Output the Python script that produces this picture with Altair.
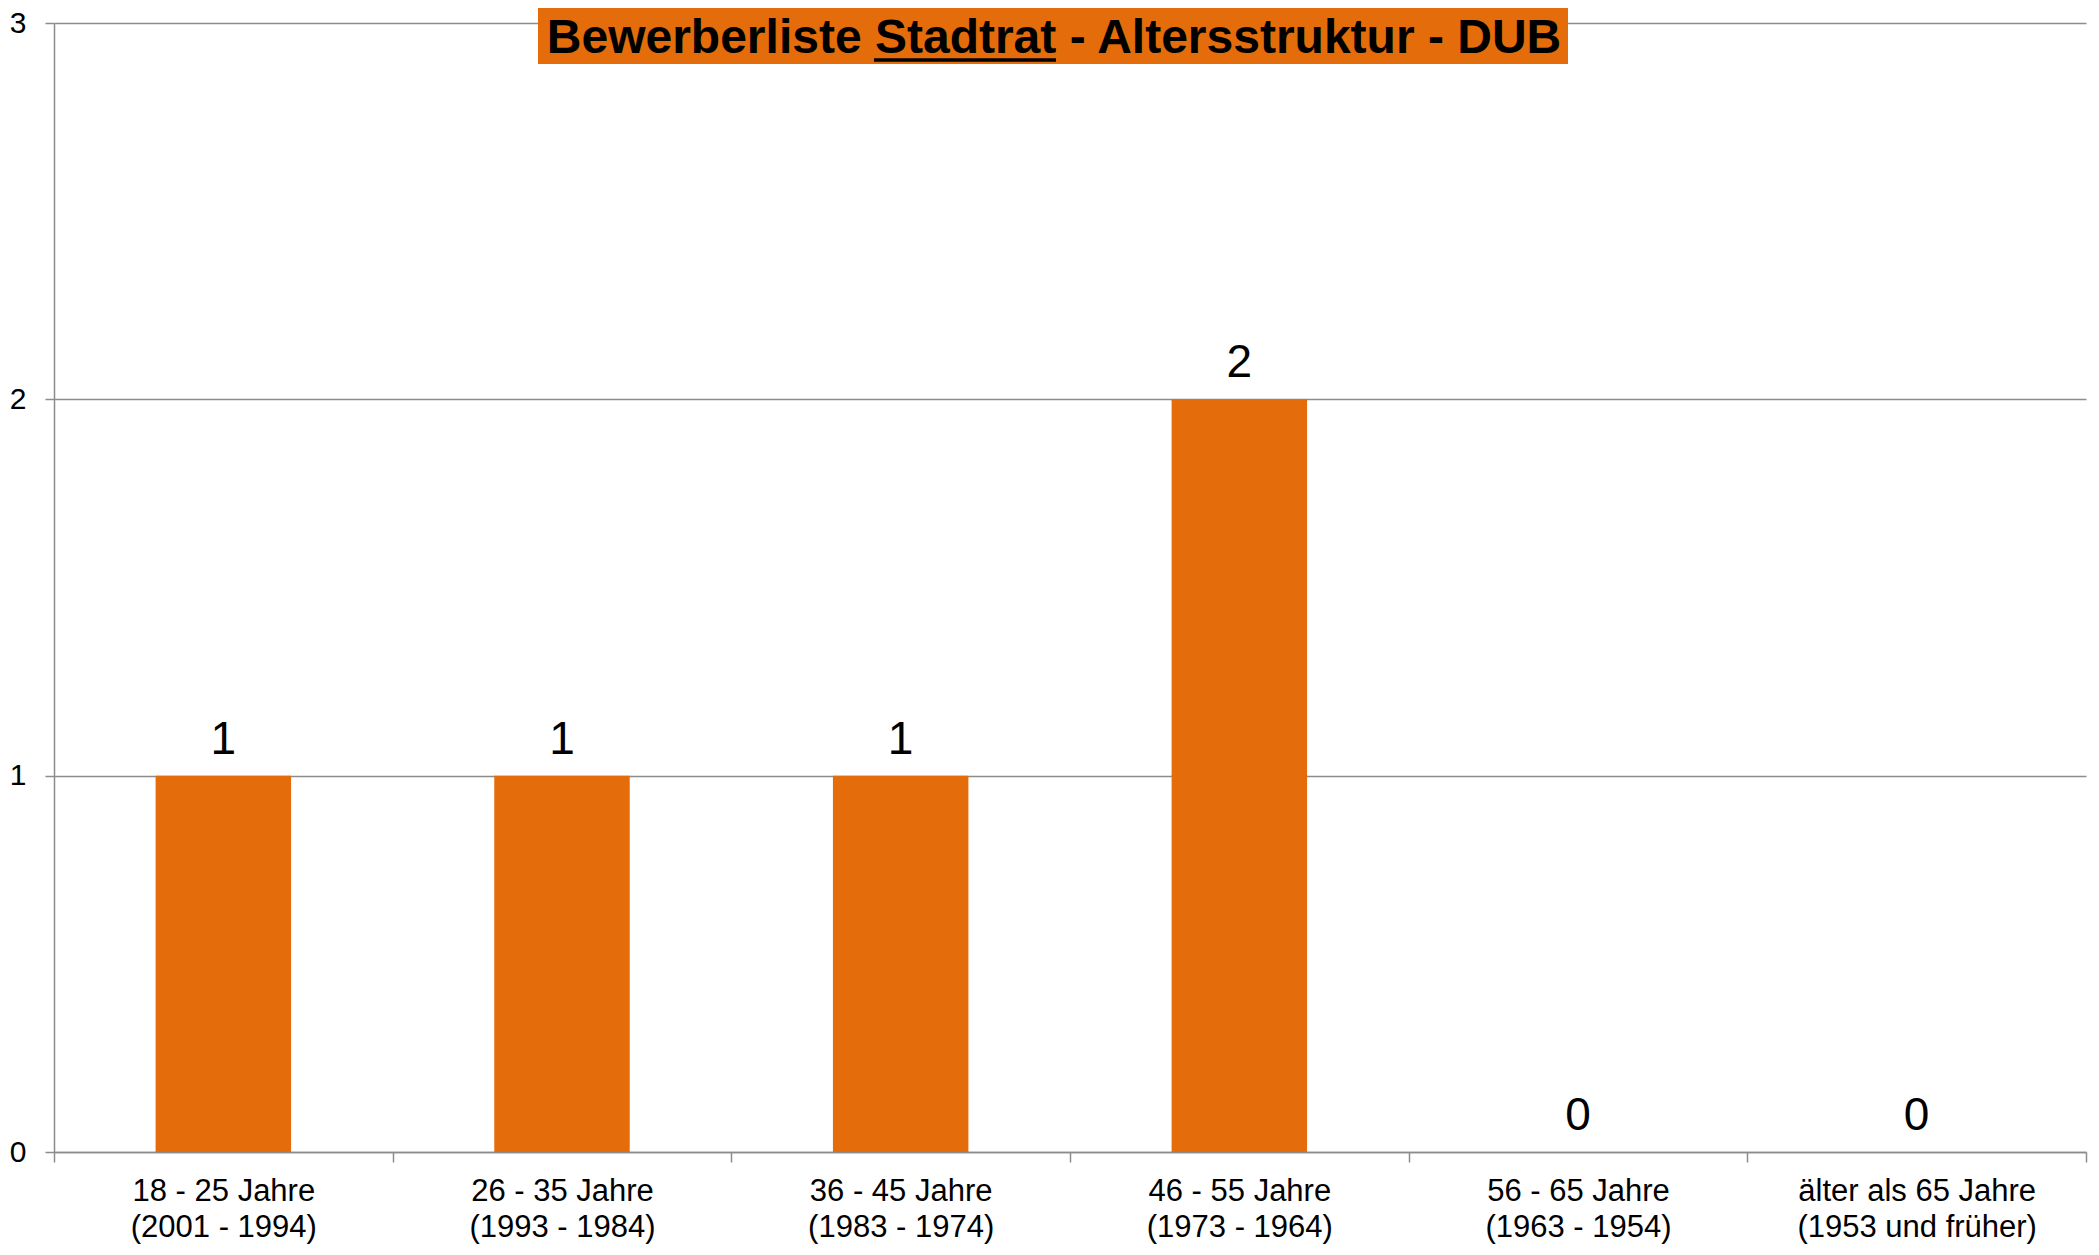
import altair as alt
import pandas as pd

age_groups = ["18 - 25 Jahre", "26 - 35 Jahre", "36 - 45 Jahre",
              "46 - 55 Jahre", "56 - 65 Jahre", "älter als 65 Jahre"]
birth_years = ["(2001 - 1994)", "(1993 - 1984)", "(1983 - 1974)",
               "(1973 - 1964)", "(1963 - 1954)", "(1953 und früher)"]
counts = [1, 1, 1, 2, 0, 0]
y_ticks = [0, 1, 2, 3]
title_text = "Bewerberliste Stadtrat - Altersstruktur - DUB"

df = pd.DataFrame({
    "label": [f"{a}\n{b}" for a, b in zip(age_groups, birth_years)],
    "count": counts,
})
title_df = pd.DataFrame({"t": [title_text]})

ORANGE = "#E46C0A"
GRAY = "#8C8C8C"
FONT = "Liberation Sans"

x = alt.X(
    "label:N", sort=None, title=None,
    scale=alt.Scale(paddingInner=0, paddingOuter=0),
    axis=alt.Axis(
        labelAngle=0, labelExpr="split(datum.label, '\\n')",
        labelFont=FONT, labelFontSize=31, labelColor="black", labelLimit=0,
        labelLineHeight=36, labelPadding=14, labelBaseline="top",
        tickBand="extent", tickSize=10, tickColor=GRAY, tickWidth=1.5,
        domainColor=GRAY, domainWidth=1.5, grid=False,
    ),
)
y = alt.Y(
    "count:Q", title=None,
    scale=alt.Scale(domain=[0, 3], nice=False),
    axis=alt.Axis(
        values=y_ticks, format="d", labelFont=FONT, labelFontSize=30,
        labelColor="black", labelPadding=19, tickSize=9, tickColor=GRAY,
        tickWidth=1.5, domainColor=GRAY, domainWidth=1.5,
        gridColor=GRAY, gridWidth=1.5,
    ),
)

base = alt.Chart(df)
bars = base.mark_bar(color=ORANGE, width=alt.RelativeBandSize(0.4)).encode(x=x, y=y)
labels = base.mark_text(
    baseline="bottom", dy=-12, fontSize=46, font=FONT, color="black"
).encode(x=x, y=y, text="count:Q")

tbase = alt.Chart(title_df)
banner = tbase.mark_rect(color=ORANGE).encode(
    x=alt.value(484), x2=alt.value(1514), y=alt.value(-20), y2=alt.value(41)
)
banner_text = tbase.mark_text(
    font=FONT, fontWeight="bold", fontSize=48, align="center",
    baseline="alphabetic", color="black"
).encode(x=alt.value(1000), y=alt.value(30), text="t:N")
underline = tbase.mark_rule(color="black", strokeWidth=3.5).encode(
    x=alt.value(820), x2=alt.value(1002), y=alt.value(37)
)

chart = alt.layer(bars, labels, banner, banner_text, underline).properties(
    width=2032, height=1129,
    autosize=alt.AutoSizeParams(type="none"),
    padding={"left": 46, "top": 15, "right": 3, "bottom": 95},
).configure_view(stroke=None)

chart.save("out.html", embed_options={"renderer": "svg", "actions": False})
